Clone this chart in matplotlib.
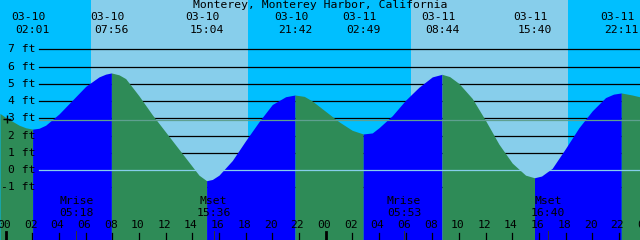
import numpy as np
import matplotlib
matplotlib.use("Agg")
import matplotlib.pyplot as plt
from matplotlib.transforms import blended_transform_factory

# tide curve (hours from 03-10 00:00, feet)
hours = [-0.43, 0, 1, 1.5, 2.02, 2.5, 3, 4, 5, 6, 7, 7.5, 7.93, 8.5, 9, 10, 11, 12, 13, 14, 14.5,
         15.07, 15.5, 16, 17, 18, 19, 20, 21, 21.7, 22.4, 23, 24, 25, 26, 26.82, 27.5, 28, 29, 30,
         31, 32, 32.73, 33.3, 34, 35, 36, 37, 38, 39, 39.67, 40.2, 41, 42, 43, 44, 45, 45.6, 46.18,
         47, 47.6]
heights = [3.28, 3.05, 2.6, 2.45, 2.37, 2.42, 2.6, 3.25, 4.05, 4.85, 5.4, 5.56, 5.63, 5.52, 5.3,
           4.3, 3.2, 2.2, 1.2, 0.2, -0.3, -0.62, -0.55, -0.3, 0.55, 1.7, 2.8, 3.8, 4.25, 4.35,
           4.27, 4.0, 3.4, 2.8, 2.3, 2.09, 2.15, 2.45, 3.15, 4.05, 4.8, 5.4, 5.55, 5.42, 5.02,
           4.15, 2.87, 1.5, 0.4, -0.3, -0.45, -0.35, 0.1, 1.25, 2.45, 3.43, 4.2, 4.4, 4.47,
           4.35, 4.24]

# highs and lows
ext_hours = [2.02, 7.93, 15.07, 21.7, 26.82, 32.73, 39.67, 46.18]
ext_kind = ["L", "H", "L", "H", "L", "H", "L", "H"]
ext_dates = ["03-10", "03-10", "03-10", "03-10", "03-11", "03-11", "03-11", "03-11"]
ext_times = ["02:01", "07:56", "15:04", "21:42", "02:49", "08:44", "15:40", "22:11"]

# daylight
sunrise = [6.41, 30.4]
sunset = [18.2, 42.16]

# moon
moon_hours = [5.3, 15.6, 29.88, 40.67]
moon_names = ["Mrise", "Mset", "Mrise", "Mset"]
moon_times = ["05:18", "15:36", "05:53", "16:40"]

ft_levels = [7, 6, 5, 4, 3, 2, 1, 0, -1]
mean_level = 2.88

W, H = 640, 240
px_h = 13.33
px_ft = 17.24
x0 = -5.7 / px_h
x1 = (W - 5.7) / px_h
y0 = -(H - 170) / px_ft
y1 = 170 / px_ft

night = "#00BFFF"
day = "#87CEEB"
rise_c = "#0000FF"
fall_c = "#2E8B57"
font = dict(family="DejaVu Sans Mono", fontsize=8.2)

fig = plt.figure(figsize=(6.4, 2.4), dpi=100)
ax = fig.add_axes([0, 0, 1, 1])
ax.set_xlim(x0, x1)
ax.set_ylim(y0, y1)
ax.axis("off")
ax.axvspan(x0 - 1, x1 + 1, color=night, zorder=0, lw=0)
for a, b in zip(sunrise, sunset):
    ax.axvspan(a, b, color=day, zorder=0, lw=0)

tr = blended_transform_factory(ax.transData, ax.transAxes)

def yf(py):
    return 1 - py / H

# level lines under the water
for lv in ft_levels:
    if lv != 0:
        ax.axhline(lv, xmin=39 / W, xmax=1, color="black", lw=0.9, zorder=1)

# water fill, blue while rising, green while falling
t = np.array(hours)
h = np.array(heights)
bounds = [-np.inf] + ext_hours + [np.inf]
for i in range(len(bounds) - 1):
    if i < len(ext_kind):
        col = rise_c if ext_kind[i] == "H" else fall_c
    else:
        col = fall_c
    m = (t >= bounds[i]) & (t <= bounds[i + 1])
    ax.fill_between(t, h, y0 - 1, where=m, color=col, lw=0, zorder=2)

ax.axhline(0, xmin=39 / W, xmax=1, color=day, lw=0.9, zorder=3)
ax.axhline(mean_level, xmin=39 / W, xmax=1, color="#5FA090", lw=0.9, zorder=3)
ax.plot([x0 + 7.3 / px_h], [(170 - 119) / px_ft], marker="+", color="black",
        ms=6, mew=1, zorder=6)

# y labels
for lv in ft_levels:
    ax.text(35 / W, lv, f"{lv} ft", transform=blended_transform_factory(ax.transAxes, ax.transData),
            ha="right", va="center", zorder=5, **font)

# title and extreme labels
ax.text(0.5, yf(5.5), "Monterey, Monterey Harbor, California", transform=ax.transAxes,
        ha="center", va="center", zorder=5, **font)
for eh, d, tm in zip(ext_hours, ext_dates, ext_times):
    ax.text(eh - 4 / px_h, yf(17.5), d, transform=tr, ha="center", va="center", zorder=5, **font)
    ax.text(eh, yf(29.7), tm, transform=tr, ha="center", va="center", zorder=5, **font)

# moon labels and ticks
for mh, nm, tm in zip(moon_hours, moon_names, moon_times):
    ax.text(mh, yf(201.5), nm, transform=tr, ha="center", va="center", zorder=5, **font)
    ax.text(mh, yf(213.5), tm, transform=tr, ha="center", va="center", zorder=5, **font)
    ax.plot([mh, mh], [yf(231), yf(240)], transform=tr, color="#333333", lw=0.7, zorder=5)

# hour ticks
for hr in range(0, 50, 2):
    top = 231.5 if hr % 24 == 0 else 233
    lw = 2 if hr % 24 == 0 else 0.9
    ax.plot([hr, hr], [yf(top), yf(240)], transform=tr, color="black", lw=lw, zorder=5)
    ax.text(hr - 1.5 / px_h, yf(225), f"{hr % 24:02d}", transform=tr, ha="center",
            va="center", zorder=5, **font)

fig.savefig("out.png", dpi=100)
